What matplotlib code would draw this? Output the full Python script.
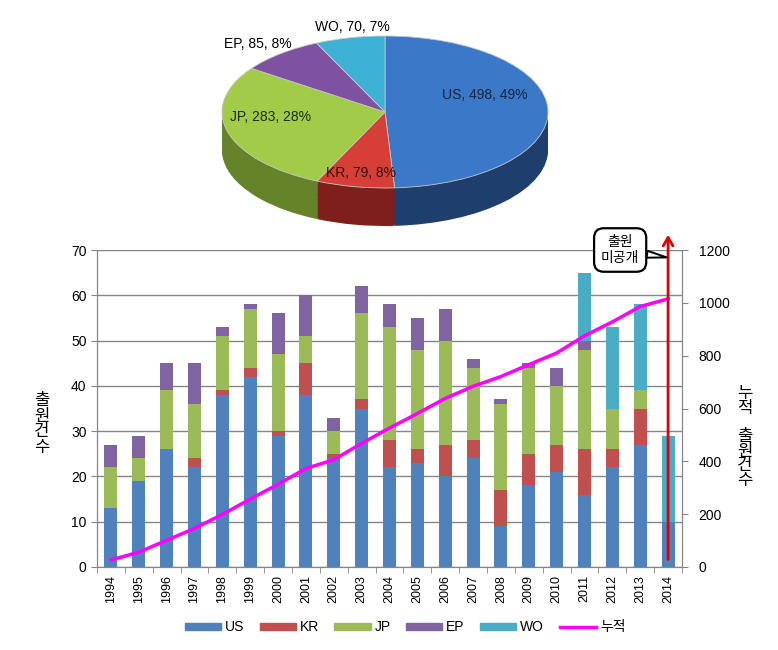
import numpy as np
import matplotlib.pyplot as plt
from matplotlib.lines import Line2D
from matplotlib.patches import Patch

plt.rcParams['font.family'] = ['Liberation Sans', 'Noto Sans CJK KR']

# data
years = [str(y) for y in range(1994, 2015)]
us = [13, 19, 26, 22, 38, 42, 29, 38, 24, 35, 22, 23, 20, 24, 9, 18, 21, 16, 22, 27, 10]
kr = [0, 0, 0, 2, 1, 2, 1, 7, 1, 2, 6, 3, 7, 4, 8, 7, 6, 10, 4, 8, 0]
jp = [9, 5, 13, 12, 12, 13, 17, 6, 5, 19, 25, 22, 23, 16, 19, 19, 13, 22, 9, 4, 0]
ep = [5, 5, 6, 9, 2, 1, 9, 9, 3, 6, 5, 7, 7, 2, 1, 1, 4, 2, 0, 0, 0]
wo = [0, 0, 0, 0, 0, 0, 0, 0, 0, 0, 0, 0, 0, 0, 0, 0, 0, 15, 18, 19, 19]

pie_names = ['US', 'KR', 'JP', 'EP', 'WO']
pie_counts = [498, 79, 283, 85, 70]
pie_pcts = [49, 8, 28, 8, 7]

bar_colors = ['#4F81BD', '#C0504D', '#9BBB59', '#8064A2', '#4BACC6']
pie_top = ['#3C78C8', '#D63F38', '#A2CB48', '#7E52A0', '#3DB2D6']
pie_side = ['#1E3F6E', '#7E1F1B', '#65842A', '#4E2F6E', '#237F9C']

fig = plt.figure(figsize=(7.78, 6.5), dpi=100)

# ---- 3D-looking pie on top
W, H = 778, 650
cx, cy, rx, ry = 385, 112, 163, 76
ylo, yhi = -1.62, 1.3
pax = fig.add_axes([(cx - rx) / W, 1 - (cy - ylo * ry) / H, 2 * rx / W, (yhi - ylo) * ry / H])
depth = 0.5
for d in np.linspace(depth, 0.01, 30):
    pax.pie(pie_counts, colors=pie_side, startangle=90, counterclock=False, center=(0, -d),
            wedgeprops=dict(linewidth=0))
pax.pie(pie_counts, colors=pie_top, startangle=90, counterclock=False, center=(0, 0),
        wedgeprops=dict(linewidth=0.6, edgecolor='#C8C8C8'))
pax.set_aspect('auto')
pax.set_xlim(-1, 1)
pax.set_ylim(ylo, yhi)
pax.axis('off')

label_xy = [(0.61, 0.23), (-0.15, -0.80), (-0.70, -0.07), (-0.78, 0.90), (-0.20, 1.12)]
label_colors = ['#1A2440', '#3A0A08', '#1E2A08', 'black', 'black']
for name, n, p, (lx, ly), c in zip(pie_names, pie_counts, pie_pcts, label_xy, label_colors):
    pax.text(lx, ly, f'{name}, {n}, {p}%', ha='center', va='center', fontsize=10, color=c, clip_on=False)

# ---- stacked bars + cumulative line
ax = fig.add_axes([97 / W, 1 - 567 / H, 585 / W, 317 / H])
x = np.arange(len(years))
series = [us, kr, jp, ep, wo]
bottom = np.zeros(len(years))
for vals, name, col in zip(series, pie_names, bar_colors):
    ax.bar(x, vals, 0.47, bottom=bottom, color=col, label=name, zorder=2)
    bottom += np.array(vals)

ax.set_xlim(-0.5, len(years) - 0.5)
ax.set_ylim(0, 70)
ax.set_yticks(range(0, 71, 10))
ax.yaxis.grid(True, color='#868686', linewidth=1)
ax.set_axisbelow(True)
ax.set_xticks(x)
ax.set_xticklabels(years, rotation=90, fontsize=9)
ax.set_xticks(np.arange(len(years) + 1) - 0.5, minor=True)
ax.tick_params(axis='x', which='major', length=0, pad=6)
ax.tick_params(axis='x', which='minor', length=4, color='#868686')
ax.tick_params(axis='y', length=4, color='#868686', labelsize=10)
for s in ['left', 'bottom', 'right']:
    ax.spines[s].set_color('#868686')
ax.spines['top'].set_visible(False)

ax2 = ax.twinx()
total = np.sum(series, axis=0)
cumulative = np.cumsum(total)
ax2.plot(x, cumulative, color='#FF00FF', linewidth=2.5, zorder=3)
ax2.set_ylim(0, 1200)
ax2.set_yticks(range(0, 1201, 200))
ax2.tick_params(axis='y', length=4, color='#868686', labelsize=10, pad=8)
for s in ['left', 'bottom', 'right']:
    ax2.spines[s].set_color('#868686')
ax2.spines['top'].set_visible(False)

# red "unpublished" arrow and callout
ax2.annotate('', xy=(x[-1], 1268), xytext=(x[-1], 18),
             arrowprops=dict(arrowstyle='->,head_length=0.6,head_width=0.35', color='#E00000', lw=2),
             annotation_clip=False)
ax2.annotate('출원\n미공개', xy=(x[-1] - 0.05, 1172), xytext=(18.28, 1200), ha='center', va='center',
             fontsize=10, linespacing=1.15, annotation_clip=False,
             bbox=dict(boxstyle='round,pad=0.5,rounding_size=0.7', fc='white', ec='black', lw=1.6),
             arrowprops=dict(arrowstyle='wedge,tail_width=0.5', fc='white', ec='black', lw=1.4,
                             shrinkA=0, shrinkB=0))

fig.text(42 / W, 1 - 424 / H, '\n'.join('출원건수'), ha='center', va='center', fontsize=12, linespacing=1.05)
fig.text(745 / W, 1 - 437 / H, '\n'.join('누적 출원건수'), ha='center', va='center', fontsize=12, linespacing=0.95)

handles = [Patch(color=c) for c in bar_colors] + [Line2D([], [], color='#FF00FF', lw=2.5)]
fig.legend(handles, pie_names + ['누적'], loc='center', bbox_to_anchor=(405 / W, 1 - 627 / H), ncol=6,
           frameon=False, fontsize=10, handlelength=2.6, handleheight=0.4, columnspacing=1.1,
           handletextpad=0.3)

fig.savefig('out.png', dpi=100)
